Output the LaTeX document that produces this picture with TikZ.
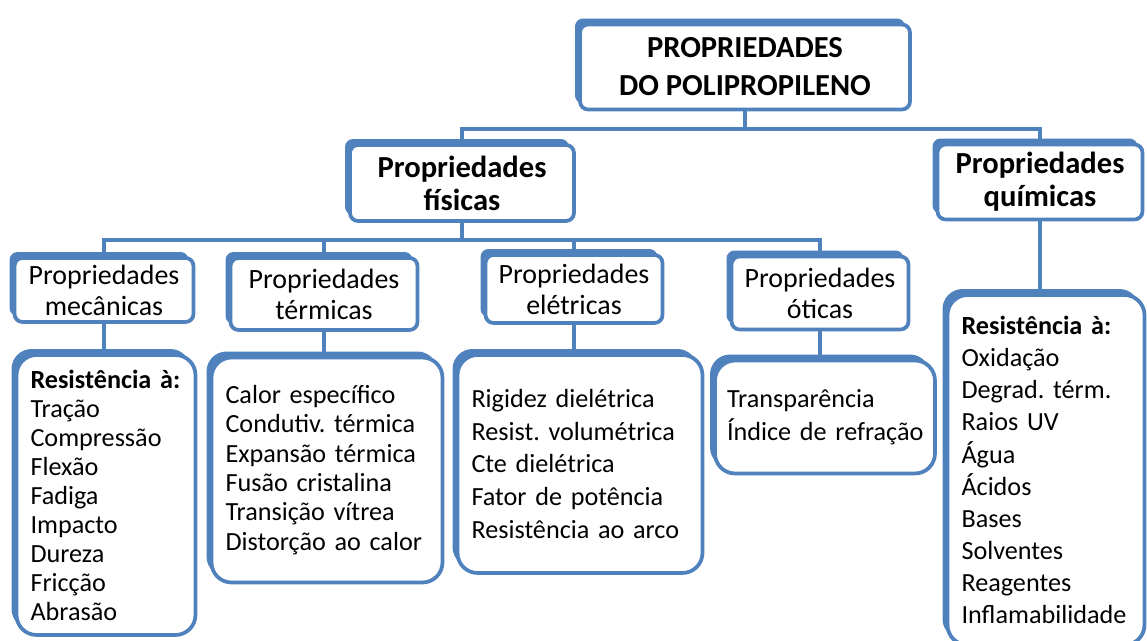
\documentclass[tikz,border=0pt]{standalone}
\usepackage{fontspec}
\setmainfont{Carlito}
\usetikzlibrary{shadows}
\definecolor{boxblue}{RGB}{79,129,189}
\begin{document}
\frenchspacing\hyphenpenalty=10000\exhyphenpenalty=10000
\begin{tikzpicture}[x=0.02cm,y=-0.02cm,
    box/.style={draw=boxblue,line width=0.075cm,fill=white,rounded corners=0.16cm,inner sep=0pt,align=center,
        drop shadow={fill=boxblue,opacity=1,shadow xshift=-0.1cm,shadow yshift=0.12cm}},
    head/.style={box,font=\fontsize{15.9}{17.6}\selectfont},
    bighead/.style={box,font=\bfseries\fontsize{17.4}{18.8}\selectfont},
    list/.style={box,rounded corners=0.4cm,align=left,inner xsep=0.28cm,font=\fontsize{14.9}{#1}\selectfont},
    link/.style={draw=boxblue,line width=0.08cm}]
\useasboundingbox (0,0) rectangle (1147,641);
\node[box,font=\bfseries\fontsize{17.4}{21.6}\selectfont,minimum width=6.6cm,minimum height=1.7cm] (pp) at (745,67) {PROPRIEDADES\\DO POLIPROPILENO};
\node[bighead,minimum width=4.48cm,minimum height=1.52cm] (fis) at (462,183) {Propriedades\\físicas};
\node[bighead,minimum width=4.1cm,minimum height=1.5cm] (qui) at (1040,182) {Propriedades\\químicas};
\node[head,minimum width=3.58cm,minimum height=1.28cm] (mec) at (104,290) {Propriedades\\mecânicas};
\node[head,minimum width=3.74cm,minimum height=1.44cm] (ter) at (324,294) {Propriedades\\térmicas};
\node[head,minimum width=3.54cm,minimum height=1.36cm] (ele) at (574,289) {Propriedades\\elétricas};
\node[head,minimum width=3.54cm,minimum height=1.46cm] (oti) at (820,293) {Propriedades\\óticas};
\node[list=16.5,text width=3.02cm,minimum height=5.6cm] (mecl) at (106,495) {\textbf{Resistência~à:}\\Tração\\Compressão\\Flexão\\Fadiga\\Impacto\\Dureza\\Fricção\\Abrasão};
\node[list=16.7,text width=4.06cm,minimum height=4.5cm] (terl) at (327,470) {Calor~específico\\Condutiv.~térmica\\Expansão~térmica\\Fusão~cristalina\\Transição~vítrea\\Distorção~ao~calor};
\node[list=18.7,text width=4.34cm,minimum height=4.36cm] (elel) at (580,464) {Rigidez~dielétrica\\Resist.~volumétrica\\Cte~dielétrica\\Fator~de~potência\\Resistência~ao~arco};
\node[list=18.7,inner xsep=0.24cm,text width=3.92cm,minimum height=2.26cm] (otil) at (825,417) {Transparência\\Índice~de~refração};
\node[list=18.3,text width=3.38cm,minimum height=7cm] (quil) at (1046,470) {\textbf{Resistência~à:}\\Oxidação\\Degrad.~térm.\\Raios~UV\\Água\\Ácidos\\Bases\\Solventes\\Reagentes\\Inflamabilidade};
\coordinate (b1) at (741,129);
\coordinate (b2) at (457,240);
\draw[link] (pp.south) -- (pp.south |- b1);
\draw[link] (fis.north) |- (b1) -| (qui.north);
\draw[link] (fis.south) -- (fis.south |- b2);
\draw[link] (mec.north) |- (b2) -| (oti.north);
\draw[link] (ter.north) -- (ter.north |- b2);
\draw[link] (ele.north) -- (ele.north |- b2);
\draw[link] (mec.south) -- (mec.south |- mecl.north);
\draw[link] (ter.south) -- (ter.south |- terl.north);
\draw[link] (ele.south) -- (ele.south |- elel.north);
\draw[link] (oti.south) -- (oti.south |- otil.north);
\draw[link] (qui.south) -- (qui.south |- quil.north);
\end{tikzpicture}
\end{document}
